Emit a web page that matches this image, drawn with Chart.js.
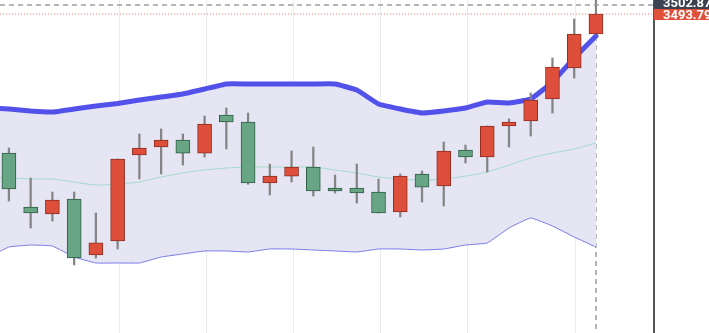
<!DOCTYPE html>
<html>
<head>
<meta charset="utf-8">
<script src="https://cdn.jsdelivr.net/npm/chart.js@4.4.1/dist/chart.umd.min.js"></script>
<style>
  html, body { margin: 0; padding: 0; background: #fff; }
  #wrap { width: 709px; height: 333px; position: relative; }
</style>
</head>
<body>
<div id="wrap"><canvas id="myChart"></canvas></div>
<script>
// candles, one per session (index 0..27)
const opens  = [3353.5, 3299.1, 3292.0, 3307.1, 3250.6, 3264.8, 3351.5, 3359.6, 3366.7, 3353.5,
                3391.9, 3384.8, 3323.3, 3330.3, 3339.4, 3318.2, 3318.2, 3314.2, 3294.0, 3332.4,
                3320.3, 3356.6, 3349.5, 3380.8, 3385.8, 3408.0, 3439.3, 3473.6];
const highs  = [3358.6, 3328.3, 3314.2, 3314.2, 3293.0, 3347.5, 3372.7, 3377.8, 3372.7, 3390.9,
                3399.0, 3393.9, 3342.4, 3355.6, 3359.6, 3331.3, 3342.4, 3327.3, 3332.4, 3335.4,
                3364.6, 3361.6, 3380.8, 3387.9, 3414.1, 3449.4, 3488.7, 3509.0];
const lows   = [3305.1, 3277.9, 3284.9, 3240.6, 3247.6, 3256.7, 3327.3, 3332.4, 3341.4, 3349.5,
                3357.6, 3322.0, 3311.2, 3324.3, 3310.2, 3313.2, 3303.1, 3293.0, 3289.0, 3304.1,
                3300.1, 3343.5, 3334.4, 3359.6, 3370.7, 3393.9, 3429.2, 3473.6];
const closes = [3317.2, 3293.0, 3306.1, 3247.6, 3262.8, 3347.5, 3358.6, 3366.7, 3353.5, 3382.8,
                3384.8, 3323.3, 3330.3, 3339.4, 3315.2, 3315.2, 3313.2, 3293.0, 3330.3, 3319.2,
                3355.6, 3349.5, 3380.8, 3384.8, 3407.0, 3440.3, 3473.6, 3493.79];

// bands start one session before the first visible candle
const bandStart = -1;
const upperBand = [3398.9, 3397.9, 3395.9, 3394.9, 3397.9, 3401.0, 3403.5, 3407.0, 3410.0, 3413.1,
                   3418.1, 3423.2, 3423.2, 3423.2, 3423.2, 3423.2, 3423.2, 3417.1, 3403.0, 3397.9,
                   3393.9, 3395.9, 3398.9, 3405.0, 3404.0, 3408.0, 3425.2, 3449.4, 3471.6];
const middleBand = [3328.3, 3328.3, 3327.3, 3327.3, 3324.3, 3321.3, 3322.3, 3324.3, 3329.3, 3333.4,
                    3336.4, 3338.4, 3339.4, 3339.4, 3339.4, 3339.4, 3336.4, 3333.4, 3329.3, 3327.3,
                    3326.3, 3327.3, 3330.3, 3334.4, 3341.4, 3348.5, 3353.5, 3357.6, 3363.6];
const lowerBand = [3247.6, 3258.7, 3260.7, 3259.7, 3248.6, 3242.6, 3242.6, 3242.6, 3248.6, 3251.7,
                   3254.7, 3254.7, 3253.7, 3256.7, 3256.7, 3255.7, 3254.7, 3253.7, 3256.7, 3256.7,
                   3255.7, 3256.7, 3260.7, 3262.8, 3277.9, 3288.0, 3279.9, 3268.8, 3258.7];

// vertical grid lines (session positions)
const gridAt = [5.08, 9.08, 13.08, 17.08, 21.08, 26.05];

const crossPrice = 3502.87;
const lastPrice = 3493.79;
const crossIndex = 27;

const RED = '#dd4f3a', RED_EDGE = '#8e2d21';
const GREEN = '#68a585', GREEN_EDGE = '#2f5e45';

const isUp = closes.map((c, i) => c >= opens[i]);
const bandPoints = arr => arr.map((v, i) => ({x: i + bandStart, y: v}));

const overlay = {
  id: 'overlay',
  beforeDatasetsDraw(chart) {
    const {ctx, chartArea, scales} = chart;
    const x = scales.x.getPixelForValue(crossIndex);
    ctx.save();
    ctx.strokeStyle = '#9aa0a6';
    ctx.lineWidth = 1.5;
    ctx.setLineDash([5, 4]);
    ctx.beginPath();
    ctx.moveTo(x, chartArea.top);
    ctx.lineTo(x, chartArea.bottom);
    ctx.stroke();
    ctx.restore();
  },
  afterDraw(chart) {
    const {ctx, chartArea, scales} = chart;
    const yCross = scales.y.getPixelForValue(crossPrice);
    const yLast = scales.y.getPixelForValue(lastPrice);
    ctx.save();
    // last price line
    ctx.strokeStyle = '#ea7d70';
    ctx.lineWidth = 1;
    ctx.setLineDash([1, 2]);
    ctx.beginPath();
    ctx.moveTo(chartArea.left, yLast);
    ctx.lineTo(chartArea.right, yLast);
    ctx.stroke();
    // crosshair line
    ctx.strokeStyle = '#9aa0a6';
    ctx.lineWidth = 1.5;
    ctx.setLineDash([5, 4]);
    ctx.beginPath();
    ctx.moveTo(chartArea.left, yCross);
    ctx.lineTo(chartArea.right, yCross);
    ctx.stroke();
    ctx.setLineDash([]);

    const left = chartArea.right;
    const w = chart.width - left;
    ctx.font = 'bold 13px Roboto';
    ctx.textBaseline = 'middle';
    ctx.textAlign = 'left';
    ctx.fillStyle = '#e0503a';
    ctx.fillRect(left, yLast - 5, w, 11);
    ctx.fillStyle = '#ffffff';
    ctx.fillText(lastPrice.toFixed(2), left + 9, yLast + 2);
    ctx.fillStyle = '#3b4350';
    ctx.fillRect(left, yCross - 6, w, 10);
    ctx.fillStyle = '#ffffff';
    ctx.fillText(crossPrice.toFixed(2), left + 9, yCross - 1);
    ctx.restore();
  }
};

const chartLayout = document.getElementById('myChart');
const myChart = new Chart(chartLayout, {
  type: 'bar',
  data: {
    datasets: [{
        label: 'Body',
        data: opens.map((o, i) => ({x: i, y: [o, closes[i]]})),
        backgroundColor: isUp.map(u => u ? RED : GREEN),
        borderColor: isUp.map(u => u ? RED_EDGE : GREEN_EDGE),
        borderWidth: 1,
        borderSkipped: false,
        barThickness: 14,
        grouped: false,
        order: 0
      },
      {
        label: 'Wick',
        data: lows.map((l, i) => ({x: i, y: [l, highs[i]]})),
        backgroundColor: '#858585',
        borderWidth: 0,
        barThickness: 1.6,
        grouped: false,
        order: 1
      },
      {
        type: 'line',
        label: 'Upper',
        data: bandPoints(upperBand),
        borderColor: '#5252ea',
        borderWidth: 5,
        pointRadius: 0,
        tension: 0.1,
        borderJoinStyle: 'round',
        borderCapStyle: 'round',
        fill: {target: 4},
        backgroundColor: '#e5e5f4',
        order: 3
      },
      {
        type: 'line',
        label: 'Middle',
        data: bandPoints(middleBand),
        borderColor: '#a3dccb',
        borderWidth: 1,
        pointRadius: 0,
        tension: 0.3,
        fill: false,
        order: 2
      },
      {
        type: 'line',
        label: 'Lower',
        data: bandPoints(lowerBand),
        borderColor: '#7b7be6',
        borderWidth: 1,
        pointRadius: 0,
        tension: 0.1,
        fill: false,
        order: 2
      }
    ]
  },
  options: {
    responsive: true,
    maintainAspectRatio: false,
    animation: false,
    layout: { padding: 0 },
    plugins: {
      legend: { display: false },
      tooltip: { enabled: false }
    },
    scales: {
      x: {
        type: 'linear',
        offset: false,
        min: -0.41,
        max: 29.67,
        afterBuildTicks: scale => { scale.ticks = gridAt.map(v => ({value: v})); },
        afterFit: scale => { scale.height = 0; },
        ticks: { display: false },
        grid: { color: '#e7eaef', drawTicks: false, offset: false },
        border: { display: false }
      },
      y: {
        position: 'right',
        min: 3171.95,
        max: 3507.91,
        afterFit: scale => { scale.width = 55; },
        ticks: { display: false },
        grid: { display: false, drawTicks: false },
        border: { display: true, color: '#50565e', width: 2 }
      }
    }
  },
  plugins: [overlay]
});
</script>
</body>
</html>
